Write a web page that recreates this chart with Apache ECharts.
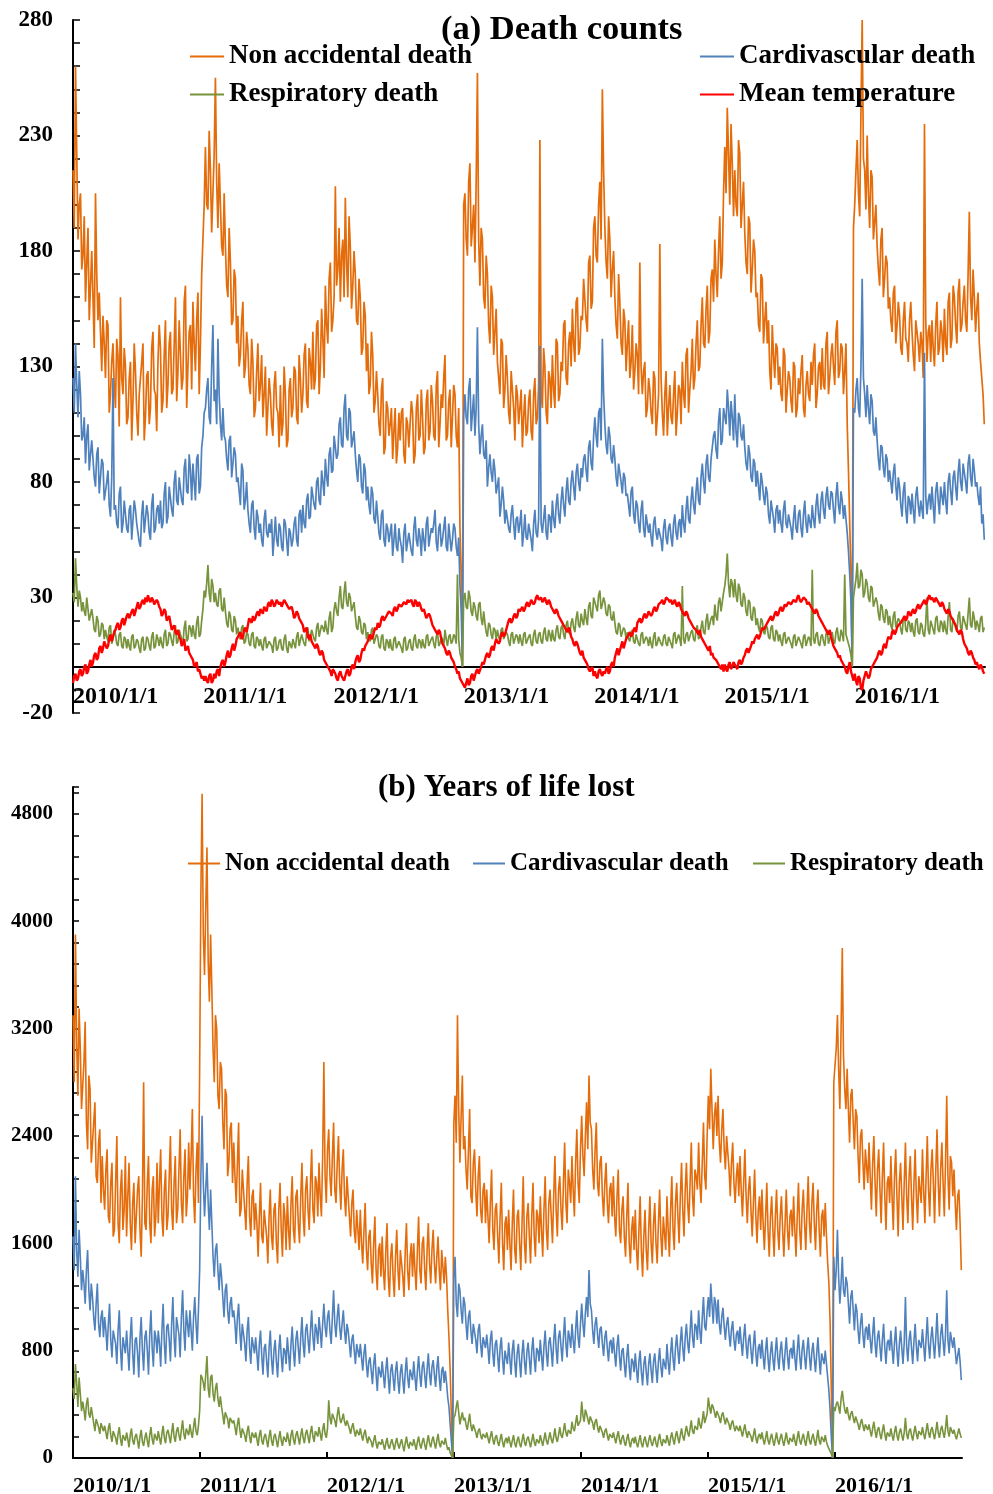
<!DOCTYPE html>
<html><head><meta charset="utf-8">
<script src="https://cdn.jsdelivr.net/npm/echarts@6/dist/echarts.min.js"></script>
<style>html,body{margin:0;padding:0;background:#fff}#c{width:993px;height:1494px}</style>
</head><body><div id="c"></div>
<script>
// Samples start 2010-01-01: "weekly" values every 7 days, "mid" values 3.5 days after each weekly one
const startYear = 2010;
const stepDays = 7;
const midOffsetDays = 3.5;
const yearTickMin = 2010, yearTickMax = 2017;

// ---------- (a) death counts ----------
const nonAccDeaths = [
215,260,185,205, 178,158,190,165, 160,205,150,145,152, 125,148,118,140, 112,135,160,118,130, 108,132,115,128, 100,125,140,108, 128,112,145,118,132, 138,115,150,122, 145,120,160,128, 150,125,165,130,148, 158,128,162,140,185,
225,198,215,205, 255,190,200,178, 182,160,175,150,168, 152,135,158,130, 138,118,132,112,140, 122,108,130,112, 118,100,128,110, 122,105,118,98,125, 112,128,105,125, 118,140,112,132, 145,125,150,130,142, 165,140,175,150,
208,172,158,185, 203,160,182,165, 170,148,160,138,152, 140,122,135,115, 118,100,125,95,112, 105,90,112,95, 98,112,88,105, 95,110,92,118,100, 108,95,120,102, 115,98,128,105, 112,135,100,120,108, 118,95,60,0,
205,178,218,190, 175,257,165,185, 155,170,140,160,145, 132,118,140,120, 125,105,120,98,118, 112,95,118,102, 120,98,125,108, 228,112,130,105,125, 135,112,140,118, 128,150,122,145, 155,132,160,138,150, 168,145,178,158,
195,175,210,250, 190,168,185,172, 160,142,158,135,150, 140,125,148,128, 135,175,118,132,112, 120,105,125,108, 183,110,118,100, 122,105,128,110,120, 132,112,138,120, 142,125,150,130, 160,138,165,145,172, 185,160,195,175,
225,242,200,218, 215,195,222,200, 188,170,192,172,180, 162,145,168,150, 140,128,148,125,138, 130,115,135,120, 125,110,130,112, 118,135,108,128,115, 122,140,118,132, 138,120,145,125, 140,122,150,128,138, 128,105,62,0,
200,228,195,280,215, 230,190,212,185, 182,165,190,168,175, 160,145,165,148, 152,135,158,140,150, 145,128,150,132, 140,235,132,148, 150,130,158,138,145, 155,135,162,142, 160,140,168,148, 165,145,197,150,160, 155,140,125,105
];
const nonAccDeathsMid = [
190,222,200,172, 195,175,150,180, 138,170,162,128,140, 150,110,132,122, 142,104,125,138,105, 125,98,140,110, 118,132,98,126, 105,138,120,102,148, 110,135,112,140, 118,140,115,150, 120,158,112,145,120, 140,150,118,170,200,
200,232,188,222, 210,218,182,205, 165,190,148,172,140, 130,150,125,145, 122,142,108,128,115, 135,118,100,125, 105,122,112,95, 100,130,95,120,108, 130,108,135,110, 135,115,138,120, 120,148,118,155,125, 148,168,145,160,
165,190,178,160, 175,195,155,180, 150,168,135,158,128, 118,145,110,128, 105,120,92,115,100, 112,102,88,110, 110,92,108,95, 115,88,112,98,120, 92,115,98,122, 100,122,95,118, 125,98,115,95,122, 100,112,40,200,
185,210,182,200, 210,185,190,160, 178,148,165,135,155, 125,142,112,135, 110,128,112,122,105, 120,108,100,115, 102,118,105,122, 118,138,110,128,112, 120,142,115,132, 148,125,140,130, 140,158,135,152,168, 150,175,155,190,
178,200,185,215, 175,195,160,180, 148,170,140,155,128, 150,132,120,140, 118,130,128,108,125, 110,128,100,118, 125,100,128,112, 108,118,100,122,105, 118,135,110,128, 120,140,128,148, 140,155,140,168,158, 170,180,168,205,
205,222,235,195, 200,228,190,210, 175,195,162,185,160, 148,170,140,158, 150,120,135,140,122, 118,138,110,128, 115,132,108,125, 128,112,122,118,132, 135,112,130,120, 122,140,118,135, 130,145,125,140,118, 140,85,40,190,
215,205,240,220,198, 205,215,185,200, 172,185,160,178,155, 150,162,140,158, 138,150,142,132,158, 135,150,140,145, 125,150,145,132, 138,148,135,150,132, 140,158,138,165, 148,162,145,158, 150,170,160,172,145, 162,132,118
];
const cardioDeaths = [
125,140,108,118, 100,88,105,92, 90,78,95,82,88, 72,85,65,125, 70,60,78,62,72, 58,70,55,68, 62,52,72,58, 66,55,75,60,70, 72,62,80,65, 78,65,85,70, 82,70,90,75,85, 88,72,92,78,100,
112,125,105,148, 120,142,105,112, 98,85,100,88,92, 82,70,85,72, 68,58,72,55,65, 62,52,68,56, 58,48,65,52, 60,50,62,48,58, 55,65,52,68, 70,60,75,65, 78,68,82,70,80, 90,78,95,85,
100,92,108,95, 118,98,110,95, 92,80,90,75,85, 78,66,75,62, 65,55,68,52,60, 58,48,62,50, 55,45,62,50, 58,48,65,52,56, 60,50,65,52, 58,68,50,62, 55,65,50,62,55, 60,48,35,0,
118,105,125,110, 100,147,92,105, 90,78,92,80,85, 75,65,78,62, 68,58,70,55,65, 62,52,66,55, 62,50,68,56, 139,58,70,55,65, 72,60,75,62, 78,65,82,70, 85,72,88,76,82, 92,80,98,85,
108,95,112,142, 105,92,100,88, 90,78,88,75,82, 75,65,78,62, 70,58,72,56,66, 62,52,65,55, 60,50,64,53, 62,52,66,55,64, 70,58,74,62, 78,66,82,70, 88,75,92,80,95, 102,90,112,98,
112,120,100,108, 118,95,108,98, 95,85,92,80,88, 85,72,80,70, 75,62,72,58,70, 68,58,72,60, 66,55,70,58, 68,56,72,58,66, 70,60,75,62, 76,64,78,68, 75,62,80,66,72, 70,58,40,0,
110,125,108,168,118, 122,105,115,100, 98,85,95,82,90, 85,75,88,72, 78,65,80,62,72, 75,62,78,65, 72,136,66,75, 78,62,80,66,74, 80,66,84,70, 85,72,90,76, 88,75,92,78,85, 80,70,62,55
];
const cardioDeathsMid = [
110,122,128,98, 108,100,85,98, 82,92,75,90,72, 80,70,82,68, 62,75,58,72,60, 68,55,72,62, 54,66,58,70, 58,70,58,68,62, 60,75,62,78, 68,80,72,82, 72,86,76,92,72, 80,90,75,95,110,
120,108,130,115, 105,118,98,100, 90,98,82,95,80, 76,88,68,80, 62,70,60,68,58, 55,64,58,62, 64,56,55,62, 52,64,55,60,52, 62,55,66,58, 62,72,64,78, 70,80,72,85,74, 82,92,84,100,
90,105,96,112, 100,112,95,102, 85,92,78,88,72, 70,78,64,72, 58,66,55,62,54, 62,55,52,60, 52,58,50,58, 50,60,55,60,48, 55,62,52,60, 62,54,60,52, 60,52,62,50,62, 52,56,25,108,
108,120,102,118, 112,105,100,92, 98,86,84,90,75, 82,70,72,68, 60,66,62,64,58, 68,58,56,62, 55,62,58,64, 62,64,58,66,58, 64,70,66,72, 70,76,72,80, 78,84,80,86,90, 85,95,88,100,
100,110,98,118, 96,104,90,96, 82,88,80,84,74, 70,76,66,72, 62,68,60,66,58, 56,62,58,60, 55,60,56,60, 56,62,58,62,56, 62,68,64,72, 70,76,72,82, 80,88,82,90,100, 94,106,96,112,
105,112,115,98, 102,110,100,105, 88,96,82,90,78, 78,84,74,78, 66,72,64,68,62, 62,68,62,66, 60,64,60,66, 60,66,62,66,60, 64,70,66,72, 68,74,70,76, 68,74,70,76,64, 64,50,28,112,
120,112,130,125,108, 112,118,102,108, 90,96,86,92,80, 80,84,78,82, 70,76,68,74,66, 68,74,70,72, 64,74,72,68, 70,76,72,78,70, 72,80,76,82, 78,84,80,88, 80,88,82,90,78, 74,78,66
];
const respDeaths = [
32,47,26,30, 28,22,30,20, 21,15,20,14,18, 16,11,18,12, 14,9,15,8,12, 12,7,14,9, 11,6,13,8, 12,7,15,9,12, 13,8,16,10, 14,9,18,11, 16,10,20,12,17, 18,12,22,14,25,
30,44,28,35, 32,26,34,24, 24,17,22,15,20, 17,12,18,11, 14,9,15,8,12, 12,7,13,8, 11,6,13,8, 12,7,14,6,11, 12,8,15,9, 14,9,17,11, 16,11,19,13,17, 20,14,24,17,
28,22,35,25, 37,26,30,24, 22,16,20,14,18, 15,11,17,10, 13,8,14,7,11, 12,7,13,8, 11,6,13,8, 12,7,14,8,11, 12,8,14,9, 13,8,15,10, 12,16,9,14,11, 13,40,6,0,
32,25,30,22, 26,20,28,18, 19,13,18,12,16, 16,11,17,12, 14,9,15,10,13, 14,9,15,10, 14,9,16,10, 15,10,17,11,14, 16,11,18,12, 18,12,20,14, 21,15,24,17,20, 25,18,28,21,
30,24,33,27, 28,22,26,20, 19,14,18,13,16, 15,11,16,10, 14,9,15,10,12, 13,8,15,10, 13,9,14,9, 13,8,15,10,12, 35,10,15,11, 16,11,18,13, 20,14,23,16,22, 27,20,30,24,
35,49,30,36, 38,28,34,26, 30,22,28,20,25, 21,15,20,14, 17,12,18,11,15, 14,9,15,10, 13,8,14,9, 13,8,14,9,12, 42,10,15,9, 14,9,16,10, 15,10,17,11,14, 40,12,8,0,
30,45,35,40,32, 36,28,34,26, 28,20,26,19,24, 22,16,24,17, 20,14,22,15,19, 19,13,21,14, 18,13,30,14, 20,14,22,15,19, 20,14,28,15, 21,15,24,16, 22,16,30,17,21, 20,15,22,17
];
const respDeathsMid = [
28,35,33,24, 24,30,20,25, 16,22,13,19,12, 13,17,10,16, 10,14,9,13,8, 9,13,8,12, 8,12,7,13, 9,13,8,14,9, 10,14,9,15, 11,15,10,16, 12,17,11,18,13, 14,19,13,20,33,
36,32,38,28, 27,33,25,30, 19,24,16,22,14, 13,17,10,15, 10,14,9,13,9, 9,12,8,11, 9,12,7,11, 8,12,8,11,8, 10,13,9,14, 10,15,11,16, 12,17,13,18,15, 16,21,15,25,
24,30,26,32, 28,32,24,28, 17,22,15,19,12, 12,16,10,14, 9,13,8,12,8, 8,12,8,11, 8,12,7,11, 8,12,9,12,8, 9,13,9,12, 10,13,9,13, 9,12,13,10,14, 10,12,4,30,
26,33,24,28, 22,27,21,24, 15,19,14,17,12, 13,16,12,15, 11,14,10,14,10, 11,14,10,13, 10,14,11,14, 11,15,12,16,11, 12,16,13,17, 14,18,15,19, 17,21,18,23,18, 21,26,22,30,
26,31,25,30, 23,27,21,24, 15,19,13,17,12, 12,15,11,14, 10,14,10,13,9, 10,13,9,13, 10,13,10,13, 10,14,10,14,9, 12,14,11,15, 12,16,12,17, 15,20,16,21,18, 22,28,24,32,
40,36,38,30, 31,36,27,32, 24,29,21,26,18, 17,21,15,18, 13,17,12,16,11, 11,14,10,13, 10,13,9,13, 10,13,9,13,9, 12,14,10,13, 11,14,10,14, 11,15,12,16,11, 14,10,5,30,
38,34,42,30,38, 30,35,26,30, 23,27,21,25,18, 18,22,17,21, 16,21,16,20,15, 15,20,15,19, 14,19,16,20, 16,21,16,20,15, 16,22,16,21, 17,22,17,22, 18,23,18,24,16, 18,21,15
];
const meanTemp = [
-7,-3,-5,-1, -3,1,-2,3, 2,6,4,9,8, 11,9,14,13, 16,19,17,21,20, 23,21,25,24, 28,26,29,30, 31,28,29,27,28, 25,23,24,21, 19,17,15,16, 12,10,7,9,5, 3,1,-2,-1,-4,
-4,-7,-3,-6, -5,-1,0,3, 2,7,5,10,9, 12,15,13,17, 18,20,22,21,24, 25,23,26,27, 26,28,27,29, 28,26,28,27,25, 24,22,23,20, 18,16,13,14, 11,8,9,5,6, 3,0,-2,-1,
-3,-6,-2,-5, -4,-1,-3,1, 2,5,3,8,9, 11,14,13,17, 19,18,22,21,23, 24,22,26,25, 27,26,28,29, 28,27,29,26,27, 24,23,21,22, 18,16,14,15, 10,8,5,6,3, 0,-3,-5,-7,
-9,-5,-7,-3, -4,-1,-3,2, 3,6,5,9,10, 12,11,15,14, 18,21,20,23,22, 24,26,25,28, 27,29,28,31, 29,28,30,27,28, 25,23,24,21, 19,17,15,16, 12,9,10,6,7, 3,1,-2,0,
-2,-5,-1,-4, -3,0,-2,2, 4,8,7,11,10, 13,15,14,17, 19,21,20,23,22, 24,23,26,25, 27,29,28,30, 28,27,29,26,27, 24,22,23,20, 18,17,15,16, 12,10,8,9,6, 4,2,0,1,
1,-2,2,0, 1,-1,3,2, 5,8,6,11,12, 14,13,17,16, 19,21,20,23,22, 25,24,27,26, 28,27,29,30, 29,28,30,27,28, 25,23,24,21, 19,17,15,16, 11,8,6,5,3, 0,-3,2,-4,
-3,-8,-5,-10,-4, -2,-4,0,2, 4,7,6,10,11, 13,15,14,17, 18,20,22,21,23, 24,23,26,25, 27,29,28,31, 30,28,29,27,28, 25,23,24,21, 19,16,14,15, 10,8,5,6,3, 2,-1,0,-3
];
const meanTempMid = [
-4,-6,-2,-4, 0,-3,1,0, 5,3,8,6,11, 8,12,11,15, 18,16,20,18,22, 21,24,22,26, 25,28,27,28, 29,30,27,29,26, 22,25,20,22, 16,18,14,13, 9,12,8,6,4, 0,2,-1,-5,-6,
-6,-4,-7,-3, -2,-4,2,0, 5,4,8,7,12, 14,12,16,15, 21,19,20,23,22, 24,26,24,28, 29,26,29,27, 26,29,27,25,26, 21,24,21,19, 15,17,12,11, 9,10,6,7,3, 1,-1,-4,-2,
-5,-3,-4,-6, -2,-4,0,-1, 4,2,6,7,10, 13,12,15,16, 17,21,20,22,24, 23,25,24,27, 26,28,27,28, 29,26,28,28,25, 25,21,23,20, 17,15,16,12, 9,6,7,4,2, -1,-2,-6,-8,
-7,-8,-4,-6, -2,-3,0,1, 5,4,8,7,12, 10,14,13,16, 20,19,22,21,25, 25,24,27,26, 29,27,30,29, 30,29,28,29,26, 24,25,22,20, 18,16,17,13, 10,11,8,5,4, 2,-1,-1,-4,
-4,-2,-3,-2, -1,-3,1,0, 6,5,9,8,12, 14,13,16,15, 20,19,22,21,24, 22,25,24,27, 28,27,30,29, 29,28,27,28,25, 23,24,21,19, 17,16,14,13, 11,9,7,5,4, 3,1,-1,-2,
-1,1,-1,2, 0,2,1,4, 7,6,9,10,13, 12,15,16,18, 20,22,21,24,23, 26,25,26,28, 27,29,28,31, 28,30,29,28,26, 24,25,22,20, 18,16,14,13, 9,7,4,3,1, -2,0,-2,-6,
-6,-4,-9,-6,-2, -5,-1,1,3, 6,5,9,8,13, 12,16,15,18, 19,21,20,24,22, 25,24,27,26, 28,27,30,29, 29,30,28,26,27, 24,25,22,20, 18,15,16,12, 9,6,7,4,1, 0,1,-2
];

// ---------- (b) years of life lost ----------
const nonAccYll = [
3300,3900,2700,3050, 2600,3250,2300,2750, 2200,2650,2050,2450,2250, 1850,2300,1750,2200, 1700,2400,1600,2150,1850, 1650,2200,1550,2050, 1600,2100,1500,2800, 1700,2250,1600,2100,1800, 1750,2300,1650,2150, 1800,2400,1700,2250, 1850,2450,1750,2300,1950, 2000,2600,1750,2350,2900,
4950,3600,4550,3400, 3500,2800,3200,2600, 2900,2300,2700,2200,2500, 2350,1900,2500,1850, 2150,1700,2250,1650,2000, 1900,1500,2050,1600, 1850,1450,2000,1550, 1900,1450,2050,1500,1800, 1950,1550,2100,1600, 2000,1600,2200,1650, 2100,1700,2300,1750,2050, 2200,1800,2950,1900,
2450,1950,2500,1900, 2400,1850,2300,1800, 2100,1650,2000,1600,1850, 1850,1450,1900,1400, 1700,1300,1800,1250,1600, 1650,1250,1750,1200, 1600,1200,1700,1250, 1550,1200,1750,1250,1600, 1600,1250,1800,1300, 1650,1250,1750,1300, 1700,1300,1650,1250,1550, 1500,1100,650,0,
2700,3300,2200,2850, 2400,2000,2600,1900, 2300,1800,2250,1750,2050, 2000,1600,2150,1550, 1900,1450,2050,1400,1800, 1850,1400,2000,1450, 1850,1400,2100,1450, 1900,1450,2050,1500,1800, 1950,1500,2100,1550, 2000,1600,2250,1650, 2100,1700,2350,1750,2050, 2250,1800,2450,1900,
2550,2100,2650,2850, 2450,2000,2500,1950, 2250,1800,2200,1750,2050, 2100,1650,2150,1600, 1950,1500,2050,1450,1800, 1850,1400,1950,1350, 1850,1400,1950,1450, 1900,1450,2000,1500,1800, 1950,1500,2100,1550, 2050,1600,2200,1650, 2200,1750,2350,1800,2100, 2350,1900,2500,2000,
2700,2900,2300,2650, 2700,2200,2600,2150, 2400,1950,2350,1900,2200, 2250,1800,2300,1750, 2100,1650,2150,1600,1950, 2000,1550,2050,1500, 1950,1500,2000,1550, 1950,1500,2000,1550,1850, 1950,1500,2050,1550, 2000,1550,2100,1600, 2050,1550,2000,1500,1850, 1900,1450,1000,0,
2800,3300,2600,3800,2750, 2900,2350,2750,2300, 2550,2050,2450,2000,2300, 2350,1850,2400,1800, 2300,1750,2350,1700,2100, 2250,1700,2300,1650, 2200,1700,2350,1750, 2250,1700,2300,1750,2100, 2300,1750,2400,1800, 2300,1750,2450,1800, 2350,1800,2700,1850,2200, 2150,1700,2000,1400
];
const nonAccYllMid = [
2800,3100,3350,2600, 2950,2500,2850,2200, 2500,2100,2350,1900,2000, 2150,1800,2050,1650, 2050,1750,2000,1700,2250, 1950,1750,1900,1600, 2000,1700,1950,1750, 2050,1750,2000,1650,2200, 2050,1800,2000,1700, 2100,1850,2050,1750, 2150,1900,2100,1800,2350, 2250,1950,2150,1900,4200,
3900,4100,3700,3900, 3050,3300,2700,2950, 2500,2750,2100,2450,2050, 2100,2200,1800,2150, 1850,2050,1800,1950,1700, 1750,1800,1650,1850, 1650,1800,1650,1850, 1600,1850,1700,1900,1550, 1700,1900,1700,1950, 1750,1950,1800,2000, 1850,2050,1850,2100,1800, 1950,2250,2100,2300,
2100,2250,2000,2200, 2050,2150,1950,2100, 1800,1900,1700,1850,1550, 1600,1700,1550,1650, 1450,1600,1400,1550,1350, 1400,1550,1350,1500, 1350,1500,1400,1550, 1350,1550,1400,1500,1350, 1400,1550,1400,1600, 1400,1550,1450,1550, 1450,1500,1400,1550,1300, 1350,900,300,2500,
2350,2600,2550,2300, 2150,2300,1950,2200, 2000,2100,1850,2000,1750, 1800,1900,1700,1850, 1650,1800,1600,1750,1550, 1600,1750,1550,1800, 1600,1750,1600,1800, 1650,1800,1650,1850,1600, 1700,1850,1700,1900, 1800,1950,1850,2000, 1850,2050,1900,2150,1900, 2000,2200,2050,2300,
2250,2400,2300,2500, 2150,2300,2050,2200, 1950,2050,1900,2000,1800, 1800,1950,1700,1850, 1650,1800,1600,1700,1550, 1550,1700,1550,1650, 1550,1700,1600,1750, 1600,1750,1650,1800,1550, 1700,1850,1700,1900, 1800,1950,1850,2000, 1900,2050,1950,2150,2000, 2050,2200,2100,2400,
2450,2600,2550,2400, 2350,2450,2300,2400, 2150,2200,2050,2100,1950, 2000,2050,1950,2000, 1850,1900,1800,1850,1700, 1750,1800,1700,1800, 1700,1800,1700,1800, 1700,1750,1700,1800,1650, 1700,1800,1700,1850, 1750,1850,1750,1900, 1750,1850,1700,1800,1650, 1650,1300,500,2800,
3050,2900,3200,3000,2600, 2600,2700,2500,2600, 2250,2400,2200,2300,2050, 2100,2200,2050,2150, 2000,2100,1950,2050,1900, 1950,2100,1950,2050, 1950,2050,1950,2100, 1950,2050,1950,2100,1900, 2000,2100,2000,2150, 2050,2150,2050,2150, 2050,2200,2100,2250,1950, 1900,1950,1750
];
const cardioYll = [
1650,2100,1350,1500, 1400,1150,1550,1100, 1200,950,1300,900,1100, 1050,800,1150,750, 950,700,1100,650,900, 950,650,1050,620, 900,600,1050,650, 950,620,1100,680,900, 950,680,1150,700, 1000,720,1200,750, 1050,750,1250,800,1000, 1100,800,1200,850,1400,
2550,1800,2200,1700, 1750,1350,1600,1250, 1350,1050,1300,1000,1200, 1100,850,1150,800, 1000,720,1050,700,900, 900,650,950,620, 850,600,950,620, 880,600,920,640,800, 900,650,980,680, 950,700,1050,750, 1000,780,1100,800,950, 1050,820,1150,900,
1100,850,1250,900, 1150,880,1100,850, 950,750,920,700,850, 850,650,850,600, 750,550,780,500,680, 720,520,750,480, 700,500,720,480, 700,480,750,520,650, 720,500,760,530, 720,520,780,540, 730,530,760,500,680, 650,450,250,0,
1500,1050,1250,1000, 1150,880,1100,850, 1000,780,1000,750,900, 920,700,950,680, 880,640,900,620,800, 860,620,880,600, 850,600,880,620, 860,620,900,640,800, 880,650,950,680, 900,680,1000,700, 950,720,1050,750,900, 1000,780,1100,820,
1150,900,1200,1400, 1100,850,1050,820, 980,760,950,720,880, 900,680,920,650, 820,600,850,580,720, 780,560,800,540, 760,540,780,560, 780,560,820,600,740, 850,620,900,650, 920,700,980,720, 1000,780,1100,820,980, 1100,850,1200,950,
1200,1300,1000,1150, 1180,920,1120,880, 1050,830,1020,800,950, 980,760,1000,740, 920,700,950,680,850, 880,660,900,640, 870,650,900,660, 870,650,900,660,820, 880,650,920,660, 880,660,900,650, 860,640,900,620,780, 800,600,350,0,
1250,1700,1150,1500,1200, 1300,1000,1250,950, 1100,850,1080,820,980, 1000,780,1050,750, 950,720,1000,700,880, 950,700,980,680, 950,700,1200,720, 950,700,1000,720,880, 960,720,1050,740, 980,740,1080,750, 1000,760,1250,780,950, 900,700,820,580
];
const cardioYllMid = [
1400,1550,1700,1250, 1300,1400,1250,1300, 1050,1150,1000,1050,900, 950,1000,880,950, 850,950,820,900,780, 800,900,780,880, 780,900,800,900, 800,920,820,950,780, 850,950,850,980, 880,1000,900,1050, 920,1050,950,1100,900, 950,1050,1000,1100,2100,
2050,2000,1900,2000, 1500,1550,1400,1450, 1200,1250,1100,1150,1050, 1000,1050,950,1000, 850,950,820,900,780, 780,850,760,820, 720,820,740,800, 720,800,760,820,700, 780,850,800,880, 820,900,850,950, 880,950,900,1000,850, 950,1000,980,1050,
950,1050,1000,1050, 980,1000,950,1000, 850,880,800,850,750, 750,780,700,720, 650,700,620,680,600, 620,660,600,650, 600,650,580,640, 580,640,600,660,580, 600,650,620,680, 620,660,630,680, 620,670,600,650,560, 560,380,120,1350,
1150,1300,1100,1200, 1000,1050,950,1000, 880,950,850,900,820, 820,880,780,850, 760,820,740,800,700, 740,800,720,780, 720,780,720,790, 740,800,740,820,720, 760,830,780,860, 800,870,820,900, 830,900,850,950,820, 880,950,900,1000,
1000,1080,1050,1150, 950,1000,920,960, 850,900,820,860,780, 780,840,760,800, 700,760,680,740,640, 660,720,640,700, 640,700,650,720, 660,720,680,740,660, 720,780,740,820, 800,860,820,900, 860,940,900,1000,880, 950,1050,980,1100,
1050,1150,1200,1000, 1000,1050,980,1000, 920,960,880,920,850, 860,900,840,880, 800,840,780,820,740, 760,800,740,780, 740,790,750,800, 740,790,760,800,740, 750,800,760,810, 760,800,760,790, 740,780,740,780,700, 700,500,150,1500,
1400,1350,1300,1250,1350, 1150,1200,1100,1150, 950,1000,920,960,880, 880,920,850,900, 830,880,820,860,800, 820,860,800,850, 820,860,830,880, 820,870,830,880,820, 840,890,850,900, 850,900,860,920, 870,920,880,940,820, 800,760,720
];
const respYll = [
520,700,380,480, 420,280,450,300, 320,200,300,180,260, 240,140,260,120, 200,100,230,90,180, 190,80,220,100, 180,70,210,90, 190,80,230,100,170, 200,100,240,110, 210,110,260,120, 230,130,280,140,220, 250,150,300,170,350,
600,500,760,450, 620,420,560,380, 380,250,350,220,300, 280,170,300,150, 220,120,240,110,190, 190,90,210,100, 180,80,210,90, 180,80,200,90,160, 190,90,210,100, 200,100,220,110, 210,110,240,120,190, 230,130,260,150,
430,250,340,230, 380,260,330,240, 280,180,260,160,220, 220,130,210,110, 160,80,170,70,130, 140,60,150,70, 140,60,150,70, 140,50,160,70,120, 140,60,160,70, 150,60,170,80, 160,70,180,80,140, 150,60,40,0,
320,430,250,340, 300,210,330,200, 240,150,220,140,190, 190,110,200,100, 170,90,180,80,150, 160,80,170,80, 160,80,180,90, 160,80,180,90,150, 170,90,190,100, 190,110,220,120, 230,150,260,160,220, 270,200,320,230,
420,270,330,250, 310,210,290,190, 230,150,220,130,190, 190,110,200,100, 170,90,180,80,150, 160,80,170,80, 160,80,170,90, 160,80,180,90,150, 170,90,190,100, 200,110,220,130, 240,160,280,180,250, 300,220,350,260,
450,330,380,300, 360,260,340,250, 300,210,280,200,250, 240,160,250,150, 210,120,220,110,180, 190,100,200,100, 180,90,190,100, 180,90,190,100,160, 180,90,200,100, 180,90,200,100, 180,90,210,100,160, 170,90,60,0,
350,420,330,500,360, 380,280,350,260, 300,210,290,200,260, 250,160,270,150, 230,140,250,130,200, 220,130,240,130, 220,130,300,140, 220,130,240,140,200, 230,140,260,150, 230,140,270,150, 240,150,320,160,220, 210,140,220,150
];
const respYllMid = [
440,560,600,350, 360,400,330,380, 260,290,230,260,200, 190,220,170,200, 150,180,140,170,130, 140,170,130,160, 130,160,120,150, 130,170,140,180,130, 150,180,150,190, 160,190,160,200, 170,210,180,220,170, 190,230,200,240,620,
560,620,520,600, 480,520,440,460, 320,340,290,300,260, 230,250,210,220, 170,200,160,190,150, 140,170,130,160, 130,160,130,160, 130,150,130,160,120, 140,170,140,170, 150,170,150,180, 160,190,160,200,160, 180,210,180,220,
300,330,280,320, 300,290,270,280, 220,230,200,210,170, 170,180,150,160, 120,130,110,120,100, 100,110,90,110, 100,110,100,110, 90,110,100,120,90, 100,120,100,120, 100,120,110,130, 110,130,110,130,100, 100,80,20,300,
380,340,300,280, 250,270,240,250, 190,200,170,180,150, 150,160,140,150, 120,140,120,130,110, 120,130,110,130, 110,130,120,140, 120,130,120,140,110, 130,140,130,150, 140,160,150,170, 170,200,190,210,180, 220,260,240,280,
320,360,290,310, 260,270,230,240, 190,200,170,180,150, 150,160,140,150, 120,140,120,130,110, 110,130,110,130, 110,130,120,130, 110,140,120,140,110, 130,150,140,160, 150,170,160,190, 190,220,200,240,210, 250,280,260,330,
380,400,340,350, 300,320,290,300, 250,260,230,240,200, 200,210,190,200, 160,170,150,160,140, 140,150,130,150, 130,140,130,150, 130,140,130,150,120, 130,150,130,150, 130,150,130,150, 130,150,130,160,120, 120,70,30,380,
400,380,440,420,330, 320,330,300,310, 250,260,240,250,210, 200,220,200,210, 180,200,180,190,160, 170,190,170,190, 170,190,180,200, 170,190,180,200,170, 180,200,190,210, 180,200,190,210, 190,220,200,230,180, 170,180,180
];

const seriesNames = ['Non accidental death','Cardivascular death','Respiratory death','Mean temperature'];
const colors = ['#E46C0A','#4F81BD','#77933C','#FF0000'];
const FONT = 'Liberation Serif';

function toYear(days){
  const t = Date.UTC(startYear,0,1) + days*86400000;
  const y = new Date(t).getUTCFullYear();
  const s = Date.UTC(y,0,1), e = Date.UTC(y+1,0,1);
  return y + (t - s)/(e - s);
}
function pts(weekly, mid){
  const out = [];
  weekly.forEach((v,i)=>{
    out.push([toYear(i*stepDays), v]);
    if (i < mid.length) out.push([toYear(i*stepDays + midOffsetDays), mid[i]]);
  });
  return out;
}

const txt = (size)=>({fontFamily:FONT, fontWeight:'bold', fontSize:size, color:'#000'});

function xAx(grid, size, ticks, offset, margin){
  return {type:'value', gridIndex:grid, min:yearTickMin, max:yearTickMax, interval:1,
    position:'bottom', offset:offset,
    axisLine:{show:true, onZero:false, lineStyle:{color:'#000', width:2}},
    axisTick:{show:ticks, inside:true, length:6, lineStyle:{color:'#000', width:2}},
    splitLine:{show:false},
    axisLabel:Object.assign({formatter:v=>v+'/1/1', align:'left', margin:margin, showMaxLabel:false}, txt(size))};
}
function yAx(grid, min, max, interval, size, tl, showMax){
  return {type:'value', gridIndex:grid, min:min, max:max, interval:interval,
    axisLine:{show:true, onZero:false, lineStyle:{color:'#000', width:2}},
    axisTick:{show:true, inside:true, length:tl, lineStyle:{color:'#000', width:1.5}},
    minorTick:{show:true, splitNumber:5, length:tl, lineStyle:{color:'#000', width:1.5}},
    splitLine:{show:false},
    axisLabel:Object.assign({margin:20, showMaxLabel:showMax, formatter:v=>String(v)}, txt(size))};
}
function line(k, weekly, mid, grid, w, z){
  return {type:'line', name:seriesNames[k], xAxisIndex:grid, yAxisIndex:grid, data:pts(weekly, mid),
    symbol:'none', showSymbol:false, color:colors[k], itemStyle:{color:colors[k]}, z:z,
    lineStyle:{color:colors[k], width:w}, emphasis:{disabled:true}};
}
function legendData(idx, w){
  return idx.map(k=>({name:seriesNames[k], icon:'path://M0,0H'+w+'V2H0Z', itemStyle:{color:colors[k]}}));
}
function lg(left, top, idx, w, size, orient){
  return {left:left, top:top, orient:orient, itemGap:11, itemWidth:w, itemHeight:2, selectedMode:false,
    data:legendData(idx, w), textStyle:txt(size)};
}

const chart = echarts.init(document.getElementById('c'), null, {renderer:'canvas'});
chart.setOption({
  animation:false,
  backgroundColor:'#fff',
  title:[
    {text:'(a) Death counts', left:436, top:8, textStyle:txt(34.5)},
    {text:'(b) Years of life lost', left:373, top:767, textStyle:txt(31)}
  ],
  legend:[
    lg(185, 38, [0,2], 34, 27, 'vertical'),
    lg(695, 38, [1,3], 34, 27, 'vertical'),
    lg(183, 846, [0], 32, 25, 'horizontal'),
    lg(468, 846, [1], 32, 25, 'horizontal'),
    lg(748, 846, [2], 32, 25, 'horizontal')
  ],
  grid:[
    {left:73, right:8, top:20, height:693, containLabel:false, outerBoundsMode:'none'},
    {left:73, right:31, top:787, height:671, containLabel:false, outerBoundsMode:'none'}
  ],
  xAxis:[xAx(0,24,false,-46.2,18), xAx(1,22,true,0,17)],
  yAxis:[yAx(0,-20,280,50,23,7,true), yAx(1,0,5000,800,21,6,false)],
  series:[
    line(0, nonAccDeaths, nonAccDeathsMid, 0, 1.7, 2),
    line(1, cardioDeaths, cardioDeathsMid, 0, 1.7, 3),
    line(2, respDeaths, respDeathsMid, 0, 1.7, 4),
    line(3, meanTemp, meanTempMid, 0, 2.4, 5),
    line(0, nonAccYll, nonAccYllMid, 1, 1.6, 2),
    line(1, cardioYll, cardioYllMid, 1, 1.6, 3),
    line(2, respYll, respYllMid, 1, 1.6, 4)
  ]
});
</script></body></html>
